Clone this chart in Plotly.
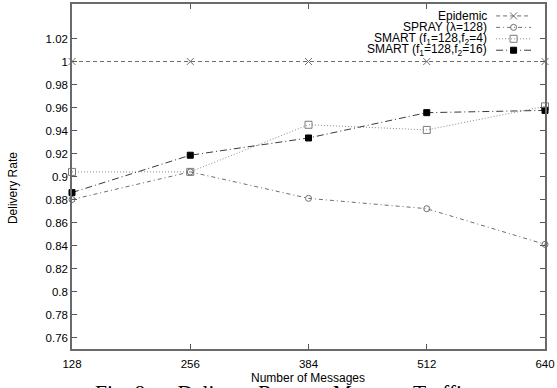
import plotly.graph_objects as go

# Message counts on the x axis
messages = [128, 256, 384, 512, 640]

# Delivery rate per routing scheme
epidemic = [1.0, 1.0, 1.0, 1.0, 1.0]
spray = [0.880, 0.904, 0.881, 0.872, 0.841]
smart_f4 = [0.904, 0.904, 0.945, 0.9405, 0.961]
smart_f16 = [0.886, 0.9185, 0.9335, 0.9555, 0.9575]

series_names = [
    "Epidemic",
    "SPRAY (\u03bb=128)",
    "SMART (f<sub>1</sub>=128,f<sub>2</sub>=4)",
    "SMART (f<sub>1</sub>=128,f<sub>2</sub>=16)",
]
y_ticks = [0.76, 0.78, 0.80, 0.82, 0.84, 0.86, 0.88, 0.90, 0.92, 0.94, 0.96, 0.98, 1.00, 1.02]
y_tick_text = ["0.76", "0.78", "0.8", "0.82", "0.84", "0.86", "0.88", "0.9",
               "0.92", "0.94", "0.96", "0.98", "1", "1.02"]

W, H = 557, 388
M_L, M_R, M_T, M_B = 72, 11, 2, 39
PW, PH = W - M_L - M_R, H - M_T - M_B


def paper_x(px):
    return (px - M_L) / PW


def paper_y(py):
    return (H - M_B - py) / PH


styles = [
    dict(color="#6e6e6e", dash="4px,3px", symbol="x-thin-open", size=7, mcolor="#6e6e6e"),
    dict(color="#6e6e6e", dash="4px,3px,1px,3px", symbol="circle-open", size=6, mcolor="#6e6e6e"),
    dict(color="#8a8a8a", dash="1px,2px", symbol="square-open", size=7, mcolor="#7a7a7a"),
    dict(color="#3a3a3a", dash="7px,3px,1px,3px", symbol="square", size=6, mcolor="#000000"),
]
data = [epidemic, spray, smart_f4, smart_f16]

fig = go.Figure()
for name, vals, st in zip(series_names, data, styles):
    fig.add_trace(go.Scatter(
        x=messages, y=vals, mode="lines+markers", name=name, showlegend=False,
        line=dict(color=st["color"], width=1, dash=st["dash"]),
        marker=dict(symbol=st["symbol"], size=st["size"], color=st["mcolor"],
                    line=dict(color=st["mcolor"], width=1)),
        cliponaxis=False,
    ))

# Key in the upper right: label on the left, line sample on the right,
# drawn on an overlay axis measured in pixels of the plot area.
key_rows = [14, 25.5, 37, 48.5]
for i, (name, st) in enumerate(zip(series_names, styles)):
    ry = key_rows[i]
    fig.add_trace(go.Scatter(
        x=[497, 532], y=[ry, ry], mode="lines", showlegend=False, hoverinfo="skip",
        line=dict(color=st["color"], width=1, dash=st["dash"]),
        xaxis="x2", yaxis="y2",
    ))
    fig.add_trace(go.Scatter(
        x=[514.5], y=[ry], mode="markers", showlegend=False, hoverinfo="skip",
        marker=dict(symbol=st["symbol"], size=st["size"], color=st["mcolor"],
                    line=dict(color=st["mcolor"], width=1)),
        xaxis="x2", yaxis="y2",
    ))
    fig.add_annotation(
        x=490, y=ry, xref="x2", yref="y2", text=name, showarrow=False,
        xanchor="right", yanchor="middle",
        font=dict(family="Liberation Sans, Arial, sans-serif", size=12, color="#000"),
    )

axis_font = dict(family="Liberation Sans, Arial, sans-serif", size=11.5, color="#000")

fig.update_layout(
    width=W, height=H,
    margin=dict(l=M_L, r=M_R, t=M_T, b=M_B, pad=0),
    paper_bgcolor="white", plot_bgcolor="white",
    showlegend=False,
    xaxis=dict(
        range=[128, 640], tickvals=messages, ticktext=[str(m) for m in messages],
        ticks="inside", ticklen=5, tickcolor="#555", tickwidth=1,
        showline=True, linecolor="#6a6a6a", linewidth=1.5, mirror="ticks",
        showgrid=False, zeroline=False, tickfont=axis_font, ticklabelstandoff=3,
    ),
    yaxis=dict(
        range=[0.75, 1.05], tickvals=y_ticks, ticktext=y_tick_text,
        ticks="inside", ticklen=5, tickcolor="#555", tickwidth=1,
        showline=True, linecolor="#6a6a6a", linewidth=1.5, mirror="ticks",
        showgrid=False, zeroline=False, tickfont=axis_font,
    ),
    xaxis2=dict(range=[M_L, W - M_R], overlaying="x", visible=False, fixedrange=True),
    yaxis2=dict(range=[H - M_B, M_T], overlaying="y", visible=False, fixedrange=True),
)

# Axis titles
fig.add_annotation(
    x=paper_x(308), y=paper_y(378), xref="paper", yref="paper",
    text="Number of Messages", showarrow=False, xanchor="center", yanchor="middle",
    font=dict(family="Liberation Sans, Arial, sans-serif", size=12, color="#000"),
)
fig.add_annotation(
    x=paper_x(13), y=paper_y(187), xref="paper", yref="paper",
    text="Delivery Rate", showarrow=False, textangle=-90,
    xanchor="center", yanchor="middle",
    font=dict(family="Liberation Sans, Arial, sans-serif", size=12, color="#000"),
)
# Figure caption
fig.add_annotation(
    x=paper_x(93), y=paper_y(379), xref="paper", yref="paper",
    text="Fig. 8.\u2003 Delivery Rate vs. Message Traffic", showarrow=False,
    xanchor="left", yanchor="top",
    font=dict(family="Liberation Serif, Times New Roman, serif", size=21.5, color="#000"),
)

fig.write_html("out.html")
